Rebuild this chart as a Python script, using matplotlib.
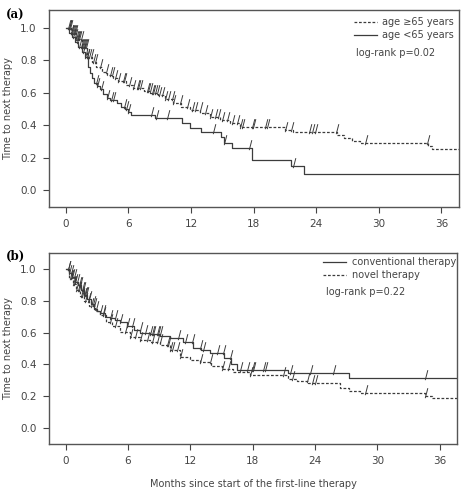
import numpy as np
import matplotlib
matplotlib.use('Agg')
import matplotlib.pyplot as plt
from matplotlib.path import Path

# ---- panel (a): age groups ----
old_t = [0, 0.5, 1.0, 1.5, 2.0, 2.5, 2.9, 3.5, 3.9, 4.5, 5.0, 5.8, 6.4, 7.5, 8.1, 8.8,
         9.5, 10.3, 11.0, 11.9, 12.9, 13.8, 14.8, 15.7, 16.7, 21.0, 21.8, 26.0, 26.7,
         27.4, 28.2, 34.7, 35.1]
old_s = [1.0, 0.97, 0.93, 0.88, 0.82, 0.79, 0.76, 0.73, 0.71, 0.69, 0.67, 0.648, 0.63,
         0.61, 0.60, 0.585, 0.56, 0.536, 0.515, 0.494, 0.475, 0.453, 0.43, 0.412, 0.391,
         0.37, 0.356, 0.34, 0.32, 0.30, 0.29, 0.27, 0.255]
old_cens = [0.2, 0.3, 0.4, 0.5, 0.6, 0.7, 0.8, 0.9, 1.0, 1.1, 1.2, 1.3, 1.4, 1.5, 1.6,
            1.7, 1.8, 1.9, 2.0, 2.2, 2.4, 2.6, 2.8, 3.26, 3.84, 4.22, 4.38, 4.7, 5.02,
            5.5, 5.57, 6.08, 6.46, 6.78, 6.94, 7.1, 7.74, 7.9, 8.06, 8.22, 8.38, 8.54,
            8.7, 8.96, 9.18, 9.5, 9.82, 10.14, 10.3, 10.94, 11.58, 12.06, 12.38, 12.86,
            13.34, 13.82, 14.3, 14.62, 14.94, 15.42, 15.9, 16.38, 16.7, 16.9, 17.8,
            17.95, 19.1, 19.25, 21.0, 21.6, 23.3, 23.6, 23.9, 25.9, 28.7, 34.6]

young_t = [0, 0.3, 0.6, 0.9, 1.2, 1.5, 1.8, 2.1, 2.3, 2.5, 2.7, 3.0, 3.3,
           3.6, 3.9, 4.2, 4.9, 5.3, 5.7, 6.0, 6.2, 8.5, 11.1, 11.9, 13.0, 14.9, 15.2,
           15.9, 17.8, 21.6, 22.8]
young_s = [1.0, 0.97, 0.94, 0.91, 0.88, 0.85, 0.82, 0.76, 0.72, 0.69,
           0.66, 0.64, 0.62, 0.59, 0.57, 0.555, 0.535, 0.515, 0.50, 0.483, 0.46, 0.443,
           0.412, 0.381, 0.36, 0.33, 0.289, 0.262, 0.185, 0.15, 0.10]
young_cens = [0.25, 0.45, 0.65, 0.85, 1.05, 1.25, 1.45, 1.65, 1.85, 2.05, 2.9, 3.0,
              3.4, 3.9, 4.3, 4.5, 5.6, 5.8, 6.0, 8.2, 8.6, 9.7, 14.1, 15.2, 17.6, 21.8]

# ---- panel (b): therapy ----
conv_t = [0, 0.3, 0.6, 0.9, 1.2, 1.5, 1.8, 2.1, 2.4, 2.7, 3.0, 3.3, 3.8, 4.3, 4.8,
          5.2, 5.9, 6.6, 7.2, 8.1, 9.1, 10.0, 11.3, 12.3, 13.0, 13.9, 15.2, 15.9,
          16.5, 21.4, 27.3]
conv_s = [1.0, 0.98, 0.95, 0.92, 0.90, 0.87, 0.84, 0.81, 0.78, 0.75, 0.735, 0.723,
          0.70, 0.69, 0.68, 0.67, 0.64, 0.615, 0.596, 0.59, 0.58, 0.565, 0.543, 0.50,
          0.49, 0.47, 0.438, 0.40, 0.364, 0.343, 0.311]
conv_cens = [0.2, 0.35, 0.5, 0.65, 0.8, 0.95, 1.1, 1.25, 1.4, 1.55, 1.7, 1.85, 2.0,
             2.3, 2.6, 2.9, 3.3, 3.6, 4.3, 4.75, 5.2, 5.9, 6.35, 7.15, 7.6, 8.1, 8.28,
             8.43, 8.76, 8.91, 9.08, 10.84, 11.48, 12.13, 12.93, 13.24, 14.53, 15.17,
             15.81, 16.78, 17.42, 17.9, 18.06, 19.02, 19.18, 21.6, 23.5, 25.7, 34.6]

novel_t = [0, 0.3, 0.7, 1.0, 1.4, 1.8, 2.3, 2.8, 3.3, 3.9, 4.5, 5.2, 6.2, 7.2, 8.1,
           9.1, 10.0, 11.0, 12.0, 12.9, 14.0, 15.0, 16.1, 17.7, 21.4, 22.3, 23.3, 26.4,
           27.3, 28.3, 34.6, 35.2]
novel_s = [1.0, 0.947, 0.91, 0.87, 0.83, 0.80, 0.77, 0.74, 0.71, 0.67, 0.64, 0.607,
           0.575, 0.554, 0.54, 0.522, 0.49, 0.448, 0.43, 0.416, 0.39, 0.37, 0.353,
           0.332, 0.31, 0.295, 0.283, 0.25, 0.23, 0.216, 0.20, 0.184]
novel_cens = [0.25, 0.4, 0.55, 0.7, 0.85, 1.0, 1.15, 1.3, 1.45, 1.6, 1.75, 1.9, 2.15,
              2.45, 2.75, 3.6, 4.3, 4.75, 5.7, 6.2, 6.7, 7.2, 7.8, 8.3, 8.76, 9.08,
              9.72, 9.88, 10.04, 10.2, 10.68, 11.0, 12.93, 13.89, 15.0, 15.65, 17.7,
              20.9, 21.8, 23.2, 23.7, 24.0, 28.8, 34.6]

xticks = [0, 6, 12, 18, 24, 30, 36]
yticks = [0.0, 0.2, 0.4, 0.6, 0.8, 1.0]

plt.rcParams['font.family'] = ['DejaVu Sans']
line_col = '#3c3c3c'
txt_col = '#444444'
dash = (0, (2.2, 1.4))

# censor tick "/" drawn from the curve upward
cens_mark = Path([(-0.03, -0.2), (0.28, 1.0)], [Path.MOVETO, Path.LINETO])


def surv_at(times, surv, ct):
    idx = np.searchsorted(times, ct, side='right') - 1
    return np.asarray(surv)[idx]


def draw_curve(ax, times, surv, cens, style):
    t = list(times) + [38.5]
    s = list(surv) + [surv[-1]]
    ax.step(t, s, where='post', color=line_col, lw=0.9, linestyle=style)
    ax.plot(cens, surv_at(times, surv, cens), linestyle='none', marker=cens_mark,
            markersize=12, markeredgewidth=0.7, color=line_col)


def style_axes(ax, xlim, ylim):
    ax.set_xlim(*xlim)
    ax.set_ylim(*ylim)
    ax.set_xticks(xticks)
    ax.set_yticks(yticks)
    ax.set_yticklabels([f'{v:.1f}' for v in yticks])
    ax.tick_params(direction='out', length=4, width=0.8, color=txt_col,
                   labelsize=7.5, labelcolor=txt_col, pad=5)
    for sp in ax.spines.values():
        sp.set_color('#555555')
        sp.set_linewidth(1.0)
    ax.set_ylabel('Time to next therapy', fontsize=7, color=txt_col, labelpad=5)


def legend_entry(ax, y, style, label, x0, x1, xt):
    ax.plot([x0, x1], [y, y], transform=ax.transAxes, color=line_col, lw=0.9,
            linestyle=style)
    ax.text(xt, y, label, transform=ax.transAxes, fontsize=7, color=txt_col,
            va='center', ha='left')


fig = plt.figure(figsize=(4.66, 4.9), dpi=100)
ax_a = fig.add_axes([0.105, 0.5776, 0.880, 0.402])
ax_b = fig.add_axes([0.105, 0.0939, 0.876, 0.3898])

draw_curve(ax_a, old_t, old_s, old_cens, dash)
draw_curve(ax_a, young_t, young_s, young_cens, '-')
style_axes(ax_a, (-1.63, 37.7), (-0.103, 1.109))
legend_entry(ax_a, 0.941, dash, 'age \u226565 years', 0.744, 0.799, 0.811)
legend_entry(ax_a, 0.873, '-', 'age <65 years', 0.744, 0.799, 0.811)
ax_a.text(0.750, 0.780, 'log-rank p=0.02', transform=ax_a.transAxes, fontsize=7,
          color=txt_col, va='center', ha='left')

draw_curve(ax_b, conv_t, conv_s, conv_cens, '-')
draw_curve(ax_b, novel_t, novel_s, novel_cens, dash)
style_axes(ax_b, (-1.6, 37.66), (-0.104, 1.104))
legend_entry(ax_b, 0.953, '-', 'conventional therapy', 0.672, 0.728, 0.742)
legend_entry(ax_b, 0.886, dash, 'novel therapy', 0.672, 0.728, 0.742)
ax_b.text(0.679, 0.795, 'log-rank p=0.22', transform=ax_b.transAxes, fontsize=7,
          color=txt_col, va='center', ha='left')
ax_b.set_xlabel('Months since start of the first-line therapy', fontsize=7,
                color=txt_col, labelpad=9)

fig.text(0.012, 0.968, '(a)', fontsize=8.5, fontweight='bold', family='DejaVu Serif',
         va='center', ha='left')
fig.text(0.012, 0.476, '(b)', fontsize=8.5, fontweight='bold', family='DejaVu Serif',
         va='center', ha='left')

fig.savefig('out.png', dpi=100)
